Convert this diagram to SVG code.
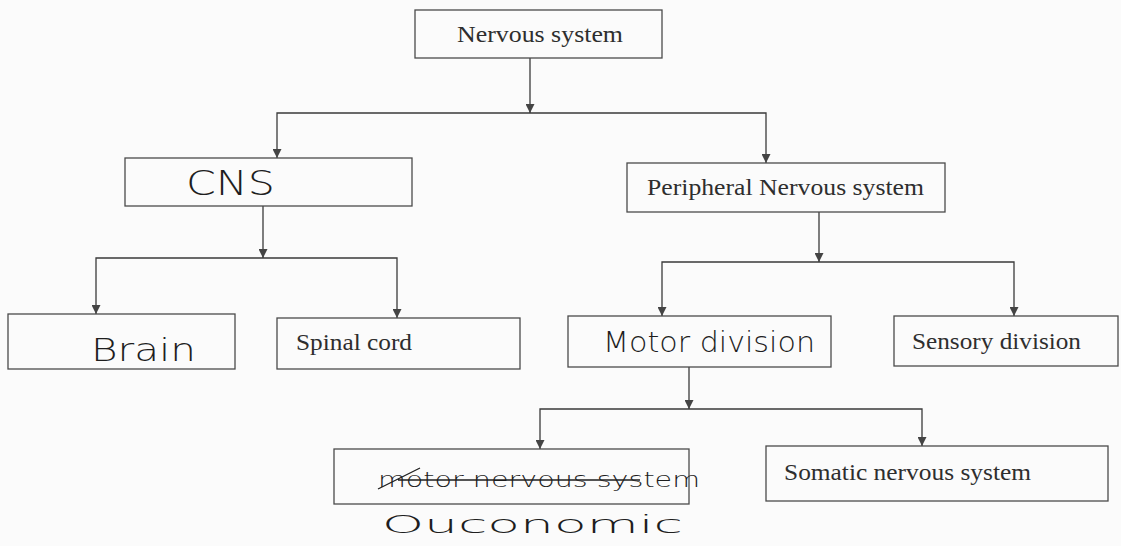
<svg xmlns="http://www.w3.org/2000/svg" width="1121" height="546" viewBox="0 0 1121 546">
<style>
.box{fill:none;stroke:#4a4a4a;stroke-width:1.3}
.con{fill:none;stroke:#3a3a3a;stroke-width:1.3}
.pt{font-family:"Liberation Serif",serif;font-size:23px;fill:#2e2e2e}
.hw{font-family:"DejaVu Sans",sans-serif;font-weight:200;fill:#1e1e1e}
</style>
<defs>
<marker id="ah" viewBox="0 0 10 10" refX="10" refY="5" markerWidth="9" markerHeight="9" markerUnits="userSpaceOnUse" orient="auto">
<path d="M0,0 L10,5 L0,10 Z" fill="#444"/>
</marker>
</defs>
<rect width="1121" height="546" fill="#fbfbfb"/>
<g id="connectors">
<path class="con" d="M530,58 V113" marker-end="url(#ah)"/>
<path class="con" d="M530,113 H277 V158" marker-end="url(#ah)"/>
<path class="con" d="M530,113 H766 V163" marker-end="url(#ah)"/>
<path class="con" d="M263,206 V258" marker-end="url(#ah)"/>
<path class="con" d="M263,258 H96 V314" marker-end="url(#ah)"/>
<path class="con" d="M263,258 H397 V318" marker-end="url(#ah)"/>
<path class="con" d="M819,212 V262" marker-end="url(#ah)"/>
<path class="con" d="M819,262 H662 V316" marker-end="url(#ah)"/>
<path class="con" d="M819,262 H1014 V316" marker-end="url(#ah)"/>
<path class="con" d="M689,367 V409" marker-end="url(#ah)"/>
<path class="con" d="M689,409 H540 V449" marker-end="url(#ah)"/>
<path class="con" d="M689,409 H922 V446" marker-end="url(#ah)"/>
</g>
<g id="nervous-system">
<rect class="box" x="415" y="10" width="247" height="48"/>
<text class="pt" x="457" y="42" textLength="166" lengthAdjust="spacingAndGlyphs">Nervous system</text>
</g>
<g id="cns">
<rect class="box" x="125" y="158" width="287" height="48"/>
<text class="hw" x="186" y="195" font-size="33" textLength="89" lengthAdjust="spacingAndGlyphs">CNS</text>
</g>
<g id="pns">
<rect class="box" x="627" y="163" width="318" height="49"/>
<text class="pt" x="647" y="195" textLength="277" lengthAdjust="spacingAndGlyphs">Peripheral Nervous system</text>
</g>
<g id="brain">
<rect class="box" x="8" y="314" width="227" height="55"/>
<text class="hw" x="91" y="361" font-size="32" textLength="105" lengthAdjust="spacingAndGlyphs">Brain</text>
</g>
<g id="spinal-cord">
<rect class="box" x="277" y="318" width="243" height="51"/>
<text class="pt" x="296" y="350" textLength="116" lengthAdjust="spacingAndGlyphs">Spinal cord</text>
</g>
<g id="motor-division">
<rect class="box" x="568" y="316" width="263" height="51"/>
<text class="hw" x="603" y="352" font-size="28" textLength="212" lengthAdjust="spacingAndGlyphs">Motor division</text>
</g>
<g id="sensory-division">
<rect class="box" x="894" y="316" width="224" height="50"/>
<text class="pt" x="912" y="349" textLength="169" lengthAdjust="spacingAndGlyphs">Sensory division</text>
</g>
<g id="autonomic">
<rect class="box" x="334" y="449" width="355" height="55"/>
<text class="hw" x="378" y="487" font-size="21" textLength="322" lengthAdjust="spacingAndGlyphs">motor nervous system</text>
<path d="M398,480 H640 M378,489 L420,468" fill="none" stroke="#1e1e1e" stroke-width="1.3"/>
<text class="hw" x="382" y="533" font-size="25" textLength="301" lengthAdjust="spacingAndGlyphs">Ouconomic</text>
</g>
<g id="somatic">
<rect class="box" x="766" y="446" width="342" height="55"/>
<text class="pt" x="784" y="480" textLength="247" lengthAdjust="spacingAndGlyphs">Somatic nervous system</text>
</g>
</svg>
